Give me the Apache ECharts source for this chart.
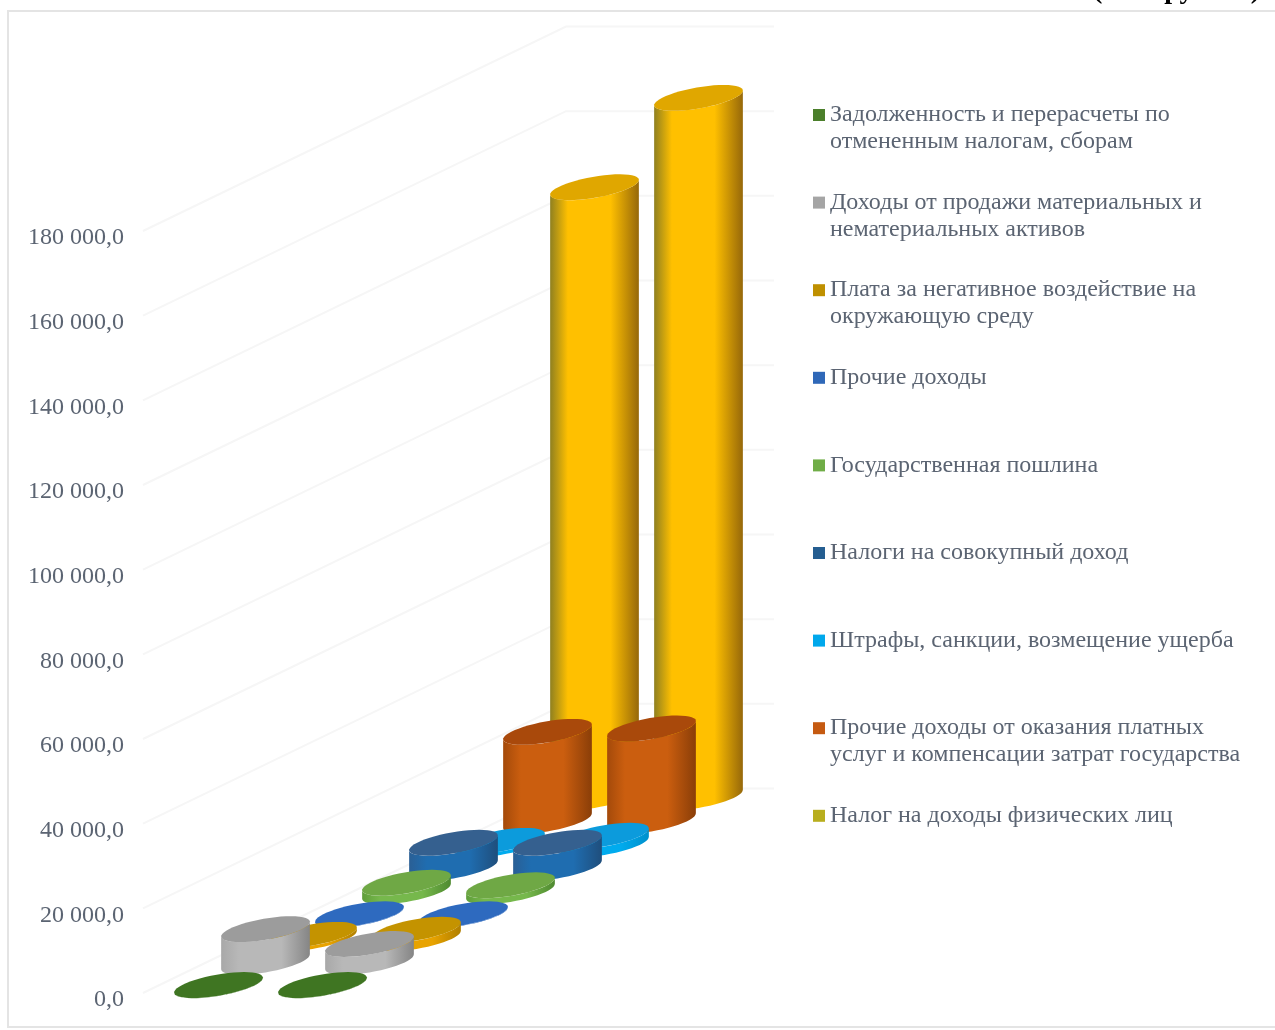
<!DOCTYPE html>
<html><head><meta charset="utf-8">
<style>html,body{margin:0;padding:0;background:#fff}#c{width:1275px;height:1030px}</style>
<script src="https://cdn.jsdelivr.net/npm/echarts@6/dist/echarts.min.js"></script>
</head><body><div id="c"></div>
<script>
const categories = ['Период 1', 'Период 2'];
const seriesNames = [
  'Задолженность и перерасчеты по\nотмененным налогам, сборам',
  'Доходы от продажи материальных и\nнематериальных активов',
  'Плата за негативное воздействие на\nокружающую среду',
  'Прочие доходы',
  'Государственная пошлина',
  'Налоги на совокупный доход',
  'Штрафы, санкции, возмещение ущерба',
  'Прочие доходы от оказания платных\nуслуг и компенсации затрат государства',
  'Налог на доходы физических лиц'
];
const debtValues = [50, 50];
const assetValues = [7700, 4200];
const envValues = [800, 2000];
const otherValues = [100, 100];
const dutyValues = [2000, 1400];
const incomeTaxValues = [5900, 5900];
const fineValues = [800, 2000];
const serviceValues = [21000, 21800];
const personalTaxValues = [144100, 165200];
const seriesValues = [debtValues, assetValues, envValues, otherValues, dutyValues, incomeTaxValues, fineValues, serviceValues, personalTaxValues];
const yTicks = [0, 20000, 40000, 60000, 80000, 100000, 120000, 140000, 160000, 180000];

// style tables: [flat/legend, top cap, edge-left, centre, edge-right]
const palette = [
  ['#4B7F2B', '#3F7522', '#3F7522', '#3F7522', '#3F7522'],
  ['#A5A5A5', '#9C9C9C', '#A8A8A8', '#B8B8B8', '#858585'],
  ['#BF9000', '#C49300', '#B98500', '#E8A300', '#B07F00'],
  ['#2F68B8', '#2E6ABF', '#2E6ABF', '#2E6ABF', '#2E6ABF'],
  ['#70AD47', '#6FA845', '#5F9E3A', '#76B84C', '#4F8A30'],
  ['#255E91', '#35608F', '#2A5F95', '#1F6DB0', '#1F4E7C'],
  ['#00A8EC', '#0C9BDC', '#0090D8', '#00ABEE', '#0090CC'],
  ['#C55A11', '#A9490B', '#A44A0A', '#CB5E0F', '#8A3E08'],
  ['#B8AE1E', '#E0A700', '#8F8020', '#FFC000', '#96680A']
];
const depthDx = 47, depthDy = 23.5, rx = 45, ry = 10.5, tilt = 10 * Math.PI / 180;
const c = echarts.init(document.getElementById('c'), null, {renderer: 'canvas'});

function ell(cx, cy, t) {
  return [cx + rx * Math.cos(t) * Math.cos(tilt) + ry * Math.sin(t) * Math.sin(tilt),
          cy + ry * Math.sin(t) * Math.cos(tilt) - rx * Math.cos(t) * Math.sin(tilt)];
}
function cylinder(s) {
  return function (params, api) {
    const base = api.coord([api.value(0), 0]);
    const top = api.coord([api.value(0), api.value(1)]);
    const ox = depthDx * (s + 0.5), oy = -depthDy * (s + 0.5);
    const bx = base[0] + ox, by = base[1] + oy, ty = top[1] + oy;
    const n = 48, t0 = Math.atan2(ry * Math.sin(tilt), rx * Math.cos(tilt));
    const cap = [], body = [];
    for (let i = 0; i < n; i++) cap.push(ell(bx, ty, i / n * 2 * Math.PI));
    for (let i = 0; i <= n / 2; i++) body.push(ell(bx, by, t0 + i / n * 2 * Math.PI));
    for (let i = n / 2; i >= 0; i--) body.push(ell(bx, ty, t0 + i / n * 2 * Math.PI));
    const p = palette[s];
    const grad = new echarts.graphic.LinearGradient(0, 0, 1, 0, [
      {offset: 0, color: p[2]}, {offset: 0.2, color: p[3]}, {offset: 0.68, color: p[3]},
      {offset: 1, color: p[4]}]);
    return {type: 'group', children: [
      {type: 'polygon', shape: {points: body}, style: {fill: grad}},
      {type: 'polygon', shape: {points: cap}, style: {fill: p[1]}}
    ]};
  };
}
function gridWall(params, api) {
  const p = api.coord([0, api.value(0)]);
  const x0 = p[0] - 104 * 0.5, y0 = p[1];
  const by = y0 - depthDy * 9 + 3;
  const pts = [[x0, y0 - 4], [x0 + depthDx * 9, by], [x0 + depthDx * 9 + 208, by]];
  return {type: 'polyline', shape: {points: pts}, style: {stroke: '#f6f6f6', lineWidth: 2, fill: 'none'}};
}
const series = [{
  type: 'custom', name: 'grid', silent: true, renderItem: gridWall, clip: false,
  data: yTicks.map(v => [v]), encode: {x: -1, y: 0}, z: 1
}];
for (let s = seriesNames.length - 1; s >= 0; s--) {
  series.push({
    type: 'custom', name: seriesNames[s], renderItem: cylinder(s), clip: false,
    data: seriesValues[s].map((v, i) => [i, v]), encode: {x: 0, y: 1},
    itemStyle: {color: palette[s][0]}, z: 2
  });
}
const font = '"Liberation Serif", serif';
const legends = seriesNames.map((n, i) => ({
  data: [{name: n, icon: 'rect', itemStyle: {color: palette[i][0]}}],
  left: 813, top: 115 - 40.5 + i * 87.6, padding: 0, itemWidth: 12, itemHeight: 12, itemGap: 7,
  selectedMode: false,
  formatter: nm => '\n' + nm + (nm.includes('\n') ? '' : '\n'),
  textStyle: {fontFamily: font, fontSize: 24, lineHeight: 27, color: '#5b6472'}
}));
c.setOption({
  animation: false,
  backgroundColor: '#fff',
  textStyle: {fontFamily: font},
  grid: {left: 143, width: 208, top: 235, height: 762, containLabel: false},
  xAxis: {type: 'category', data: categories, show: false},
  yAxis: {type: 'value', min: 0, max: 180000, interval: 20000,
    axisLine: {show: false}, axisTick: {show: false}, splitLine: {show: false},
    axisLabel: {margin: 19, fontFamily: font, fontSize: 24, color: '#5b6472', verticalAlign: 'top', lineHeight: 6,
      formatter: v => String(v).replace(/\B(?=(\d{3})+$)/g, ' ') + ',0'}},
  legend: legends,
  graphic: [
    {type: 'rect', z: 0, shape: {x: 8, y: 11, width: 1290, height: 1016}, style: {fill: '#fff', stroke: '#e4e4e4', lineWidth: 2}},
    {type: 'text', z: 0, x: 1093, y: 5, style: {text: '(тыс. рублей)', fontFamily: font, fontWeight: 'bold', fontSize: 28, fill: '#000', verticalAlign: 'bottom', align: 'left'}}
  ],
  series: series
});
</script></body></html>
